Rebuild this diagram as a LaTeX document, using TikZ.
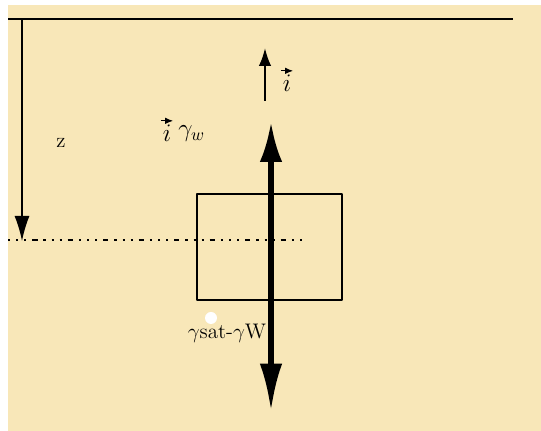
\documentclass[tikz,border=0pt]{standalone}
\usepackage{amsmath}
\usetikzlibrary{arrows.meta}
\definecolor{sandbg}{RGB}{248,231,184}
\tikzset{vecbar/.style={line width=0.6pt,-{Latex[length=1.6mm,width=1.3mm]}}}
\begin{document}
\begin{tikzpicture}[line cap=butt,line join=round,>=Latex,x=0.02cm,y=-0.02cm]
			\useasboundingbox (0,0) rectangle (541,431);
			\fill[sandbg] (8,5) rectangle (541,431);
			% surface and depth
			\draw [line width=1.6pt] (8,19)-- (513,19);
			\draw [line width=0.8pt,-{Latex[length=0.5cm,width=0.3cm]}] (22,19)-- (22,241);
			\draw [line width=1.1pt,dash pattern=on 1.2pt off 3.4pt on 1.2pt off 3.4pt on 1.2pt off 3.4pt on 3pt off 3.4pt] (8,240)-- (303,240);
			% soil element
			\draw [line width=1.1pt] (197,194) rectangle (342,300);
			% forces
			\draw [line width=3pt,{Latex[length=0.8cm,width=0.45cm]}-{Latex[length=0.95cm,width=0.45cm]}] (271,122)-- (271,411);
			\draw [line width=1.2pt,-{Latex[length=0.36cm,width=0.25cm]}] (265,101)-- (265,48);
			\fill[white] (211,318) circle (6);
			\begin{large}
			\draw (61,143) node {z};
			\draw (227,333) node {$\gamma$sat-$\gamma$W};
			\end{large}
			\begin{Large}
			\node[inner sep=0pt] (iw) at (167,133) {$i$};
			\node[anchor=west,inner sep=0pt] (gw) at (178,134) {$\gamma_w$};
			\node[inner sep=0pt] (itop) at (287,83) {$i$};
			\end{Large}
			\draw[vecbar] ([xshift=-3.5pt,yshift=2pt]iw.north) -- ([xshift=3.5pt,yshift=2pt]iw.north);
			\draw[vecbar] ([xshift=-3.5pt,yshift=2pt]itop.north) -- ([xshift=3.5pt,yshift=2pt]itop.north);
			\end{tikzpicture}
\end{document}
